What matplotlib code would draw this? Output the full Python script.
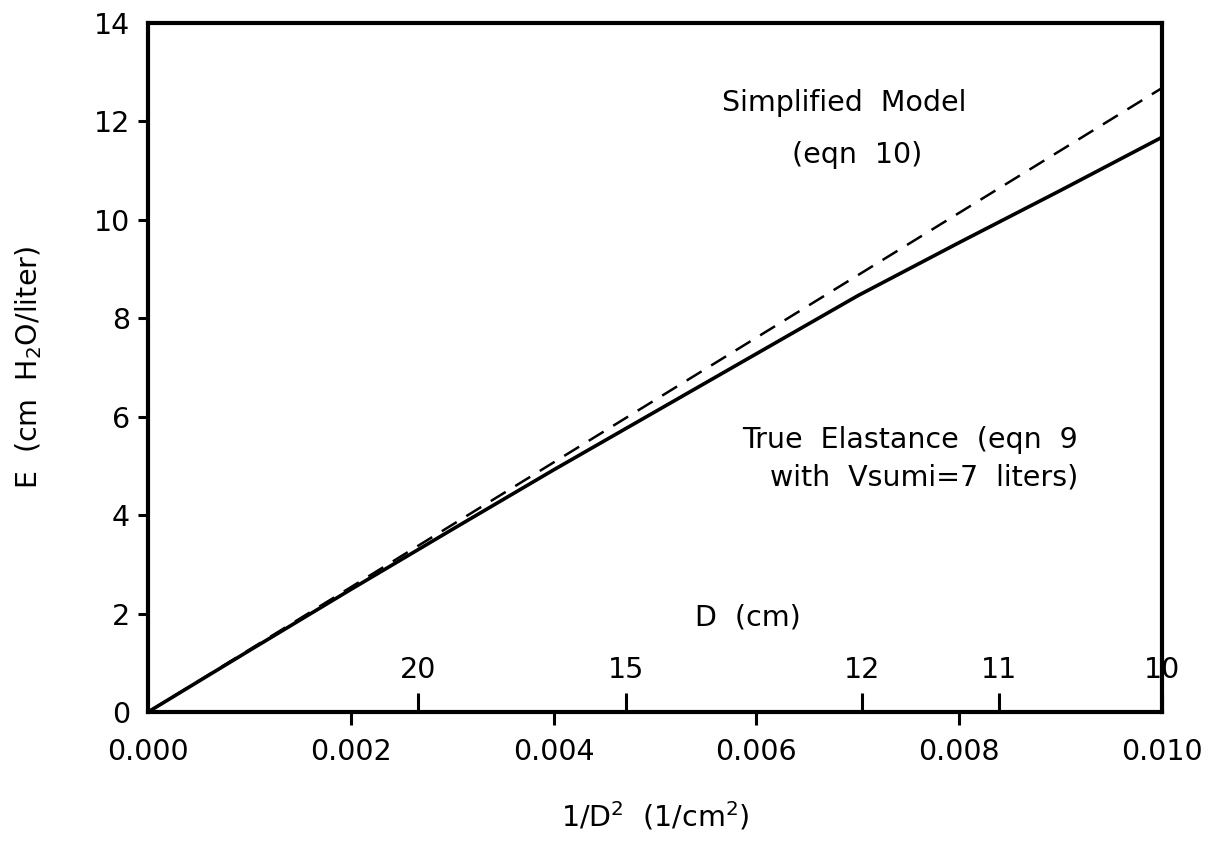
import matplotlib
matplotlib.use('Agg')
import matplotlib.pyplot as plt
import matplotlib.transforms as mtransforms

# values
inv_d2 = [0.000, 0.001, 0.002, 0.003, 0.004, 0.005, 0.006, 0.007, 0.008, 0.009, 0.010]
e_true = [0.00, 1.25, 2.49, 3.71, 4.92, 6.10, 7.28, 8.46, 9.54, 10.60, 11.68]

simple_x = [0.000, 0.010]
simple_e = [0.00, 12.68]

x_ticks = [0.000, 0.002, 0.004, 0.006, 0.008, 0.010]
x_labels = ['0.000', '0.002', '0.004', '0.006', '0.008', '0.010']
y_ticks = [0, 2, 4, 6, 8, 10, 12, 14]
y_labels = ['0', '2', '4', '6', '8', '10', '12', '14']

# diameter scale drawn along the bottom axis
d_pos = [0.00266, 0.00471, 0.00704, 0.00839, 0.01000]
d_labels = ['20', '15', '12', '11', '10']

plt.rcParams['font.family'] = ['DejaVu Sans']
plt.rcParams['font.size'] = 20.5

fig = plt.figure(figsize=(12.16, 8.51), dpi=100)
ax = fig.add_axes([0.1217, 0.1633, 0.8339, 0.8096])

ax.plot(inv_d2, e_true, color='black', lw=2.6, solid_capstyle='round')
ax.plot(simple_x, simple_e, color='black', lw=1.8, dashes=(7, 4.5))

ax.set_xlim(0, 0.010)
ax.set_ylim(0, 14)

for sp in ax.spines.values():
    sp.set_linewidth(3)

ax.set_xticks(x_ticks, labels=x_labels)
ax.set_yticks(y_ticks, labels=y_labels)
ax.tick_params(axis='x', direction='out', length=9, width=2.2, pad=10)
ax.tick_params(axis='y', direction='out', length=7, width=2.2, pad=6)
# no stubs at the corners
for t in (ax.xaxis.get_major_ticks()[0], ax.xaxis.get_major_ticks()[-1],
          ax.yaxis.get_major_ticks()[0], ax.yaxis.get_major_ticks()[-1]):
    t.tick1line.set_visible(False)

sec = ax.secondary_xaxis('bottom')
sec.set_xticks(d_pos, labels=[])
sec.tick_params(direction='in', length=14, width=2.2)
sec.spines['bottom'].set_visible(False)

trans = mtransforms.blended_transform_factory(ax.transData, ax.transAxes)
for xp, lab in zip(d_pos, d_labels):
    ax.text(xp, 0.049, lab, transform=trans, ha='center', va='baseline')
ax.text(0.00592, 1.93, 'D  (cm)', ha='center', va='center')

ax.text(0.00687, 12.38, 'Simplified  Model', ha='center', va='center')
ax.text(0.00699, 11.32, '(eqn  10)', ha='center', va='center')
ax.text(0.00751, 5.53, 'True  Elastance  (eqn  9', ha='center', va='center')
ax.text(0.00765, 4.76, 'with  Vsumi=7  liters)', ha='center', va='center')

ax.set_xlabel('1/D$^2$  (1/cm$^2$)', labelpad=24)
ax.set_ylabel('E  (cm  H$_2$O/liter)', labelpad=36)

fig.savefig('out.png', dpi=100)
